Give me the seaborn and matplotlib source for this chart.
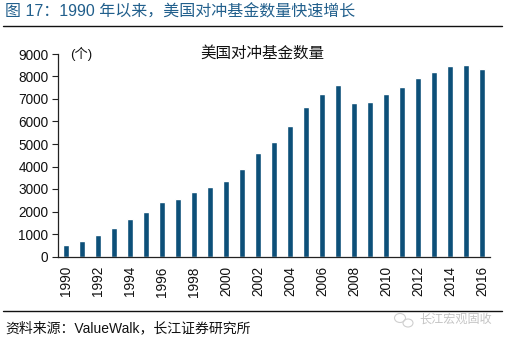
import matplotlib
matplotlib.use("Agg")
import matplotlib.pyplot as plt
import seaborn as sns
import pandas as pd
from matplotlib.patches import Ellipse
from matplotlib.lines import Line2D

# Number of US hedge funds by year
years = [str(y) for y in range(1990, 2017)]
fund_counts = [530, 690, 950, 1280, 1650, 2000, 2410, 2550, 2850, 3100,
               3350, 3900, 4600, 5070, 5780, 6660, 7240, 7630, 6840, 6880,
               7230, 7550, 7930, 8200, 8460, 8490, 8320]
y_ticks = [0, 1000, 2000, 3000, 4000, 5000, 6000, 7000, 8000, 9000]

fig_title = "图 17：1990 年以来，美国对冲基金数量快速增长"
chart_title = "美国对冲基金数量"
unit_label = "(个)"
source_note = "资料来源：ValueWalk，长江证券研究所"
brand = "长江宏观固收"

sns.set_theme(style="white")
plt.rcParams["font.family"] = ["Liberation Sans", "Noto Sans CJK SC", "DejaVu Sans"]

df = pd.DataFrame({"year": years, "count": fund_counts})

W, H = 505, 342
fig = plt.figure(figsize=(W / 100, H / 100), dpi=100)
fig.patch.set_facecolor("white")

left, right, top, bottom = 58, 490, 54, 256.5
ax = fig.add_axes([left / W, 1 - bottom / H, (right - left) / W, (bottom - top) / H])

sns.barplot(data=df, x="year", y="count", order=years, color="#0d5079",
            saturation=1, width=0.38, ax=ax)

ax.set_xlim(-0.5, len(years) - 0.5)
ax.set_ylim(0, 9000)
ax.set_yticks(y_ticks)
ax.set_yticklabels([str(v) for v in y_ticks], fontsize=9.8, color="#111111")
ax.set_xticks(range(len(years)))
ax.set_xticklabels([y if i % 2 == 0 else "" for i, y in enumerate(years)],
                   rotation=90, fontsize=9.8, color="#111111")
ax.tick_params(axis="x", length=0, pad=7)
ax.tick_params(axis="y", length=4, width=0.8, direction="out", left=True, pad=3, color="#222222")
ax.set_xlabel("")
ax.set_ylabel("")
for side in ["top", "right"]:
    ax.spines[side].set_visible(False)
for side in ["left", "bottom"]:
    ax.spines[side].set_color("#222222")
    ax.spines[side].set_linewidth(0.9)
ax.grid(False)

# Chart title and unit
fig.text(262 / W, 1 - 53 / H, chart_title, ha="center", va="center",
         fontsize=11.2, color="#111111")
fig.text(70 / W, 1 - 54 / H, unit_label, ha="left", va="center",
         fontsize=9.5, color="#111111")

# Figure heading with rule
fig.text(5 / W, 1 - 12 / H, fig_title, ha="left", va="center",
         fontsize=11.5, color="#215f8c")
fig.add_artist(Line2D([3 / W, 502 / W], [1 - 26 / H, 1 - 26 / H],
                      color="#111111", linewidth=1.0))

# Footer rule, source and brand mark
fig.add_artist(Line2D([3 / W, 502 / W], [1 - 311 / H, 1 - 311 / H],
                      color="#111111", linewidth=1.0))
fig.text(5 / W, 1 - 328 / H, source_note, ha="left", va="center",
         fontsize=10, color="#111111")
fig.text(419 / W, 1 - 320 / H, brand, ha="left", va="center",
         fontsize=8.7, color="#c4c4c4")
fig.add_artist(Ellipse((400 / W, 1 - 318 / H), 11 / W, 9 / H,
                       fill=False, edgecolor="#cfcfcf", linewidth=0.8))
fig.add_artist(Ellipse((408 / W, 1 - 323 / H), 10 / W, 8 / H,
                       fill=False, edgecolor="#cfcfcf", linewidth=0.8))

fig.savefig("out.png", dpi=100, facecolor="white")
